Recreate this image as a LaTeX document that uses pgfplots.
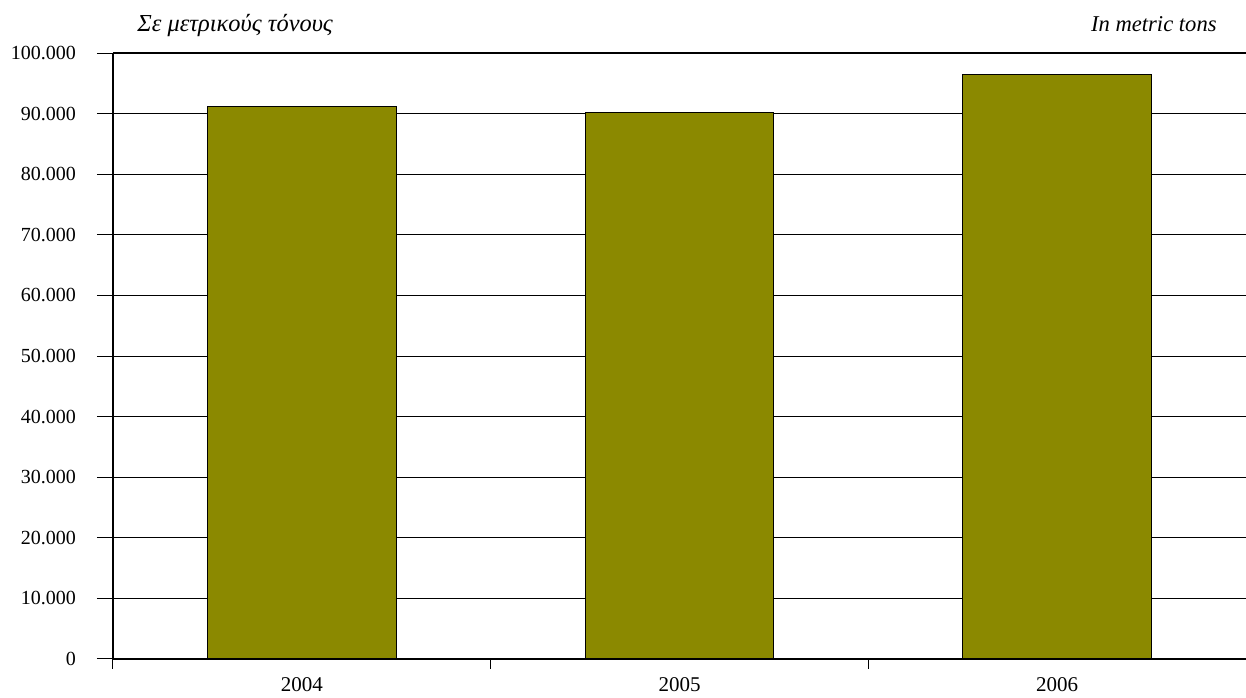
\documentclass[border=0pt]{standalone}
\usepackage{fontspec}
\setmainfont{Liberation Serif}
\usepackage{pgfplots}
\pgfplotsset{compat=1.18}
\definecolor{olivebar}{RGB}{139,137,0}
\begin{document}
\fontsize{10}{12}\selectfont
\begin{tikzpicture}
\useasboundingbox (-56.5pt,-19.15pt) rectangle (566.5pt,329.35pt);
\begin{axis}[
  at={(0,0)}, anchor=south west,
  scale only axis,
  width=566.5pt, height=302.7pt,
  xmin=-0.5, xmax=2.5,
  ymin=0, ymax=100000,
  axis x line*=bottom, axis y line*=left,
  axis line style={line width=0.8pt},
  xtick={0,1,2},
  xticklabels={2004,2005,2006},
  minor xtick={-0.5,0.5,1.5,2.5},
  ytick={0,10000,...,100000},
  scaled y ticks=false,
  yticklabel={\pgfmathprintnumber[fixed,precision=0,1000 sep={.},assume math mode=true]{\tick}},
  tick align=outside,
  major tick length=8pt,
  minor tick length=5pt,
  major x tick style={draw=none},
  minor x tick style={draw=black, line width=0.5pt},
  major y tick style={draw=black, line width=0.5pt},
  ymajorgrids,
  grid style={black, line width=0.5pt},
  extra y ticks={100000},
  extra y tick labels={},
  extra y tick style={grid style={black, line width=1.1pt}, major tick length=0pt},
  xticklabel style={yshift=2pt, font=\fontsize{10.5}{12}\selectfont},
  yticklabel style={xshift=-7pt},
  ybar, bar width=0.5, bar shift=0pt,
  clip=false,
]
\addplot[fill=olivebar, draw=black, line width=0.5pt] coordinates {(0,91130) (1,90300) (2,96580)};
\node[anchor=base west, inner sep=0pt, font=\fontsize{12.2}{14}\selectfont\itshape] at (rel axis cs:0,1) [xshift=12pt, yshift=11pt] {Σε μετρικούς τόνους};
\node[anchor=base east, inner sep=0pt, font=\fontsize{11.3}{13}\selectfont\itshape] at (rel axis cs:1,1) [xshift=-14.5pt, yshift=11pt] {In metric tons};
\end{axis}
\end{tikzpicture}
\end{document}
